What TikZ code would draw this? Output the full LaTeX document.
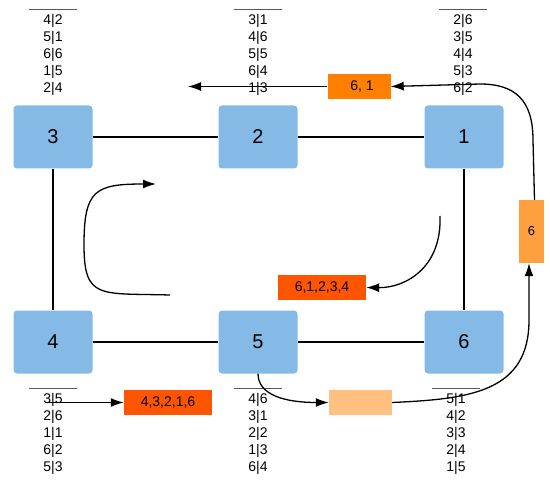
\documentclass[tikz,border=0pt]{standalone}
\usepackage{fontspec}
\setmainfont{Liberation Sans}
\usetikzlibrary{arrows.meta}
\definecolor{boxblue}{RGB}{132,186,229}
\definecolor{orgA}{RGB}{255,128,0}
\definecolor{orgB}{RGB}{255,160,64}
\definecolor{orgC}{RGB}{255,192,128}
\definecolor{orgD}{RGB}{255,85,0}
\tikzset{
  vbox/.style={rounded corners=3.5pt, fill=boxblue, draw=none, minimum width=79pt, minimum height=63pt, inner sep=0pt, font=\fontsize{20}{22}\selectfont},
  tagbox/.style={draw=none, inner sep=0pt, minimum height=25pt, font=\fontsize{14}{16}\selectfont},
  tbl/.style={align=center, inner sep=0pt, anchor=north, font=\fontsize{14}{17}\selectfont},
  rulec/.style={draw=black!65, line width=0.9pt},
  link/.style={draw=black, line width=1.2pt},
  arr/.style={draw=black, line width=1.3pt, -{Latex[length=13pt,width=9pt]}},
}
\begin{document}
\begin{tikzpicture}[x=1pt,y=-1pt]
\useasboundingbox (0,0) rectangle (550,487);
% main boxes
\node[vbox] (n3) at (53,137) {3};
\node[vbox] (n2) at (258,137) {2};
\node[vbox] (n1) at (464,137) {1};
\node[vbox] (n4) at (53,342) {4};
\node[vbox] (n5) at (258,342) {5};
\node[vbox] (n6) at (464,342) {6};
% links
\draw[link] (n3) -- (n2);
\draw[link] (n2) -- (n1);
\draw[link] (n3) -- (n4);
\draw[link] (n1) -- (n6);
\draw[link] (n4) -- (n5);
\draw[link] (n5) -- (n6);
% tables
\node[tbl] (t3) at (53,14.5) {4|2\\5|1\\6|6\\1|5\\2|4};
\node[tbl] (t2) at (258,14.5) {3|1\\4|6\\5|5\\6|4\\1|3};
\node[tbl] (t1) at (463,14.5) {2|6\\3|5\\4|4\\5|3\\6|2};
\node[tbl] (t4) at (53,393.5) {3|5\\2|6\\1|1\\6|2\\5|3};
\node[tbl] (t5) at (258,393.5) {4|6\\3|1\\2|2\\1|3\\6|4};
\node[tbl] (t6) at (456,393.5) {5|1\\4|2\\3|3\\2|4\\1|5};
\foreach \t in {t3,t2,t1,t4,t5,t6}{
  \draw[rulec] ([xshift=-24pt,yshift=5.5pt]\t.north) -- ([xshift=24pt,yshift=5.5pt]\t.north);
}
% tag boxes
\node[tagbox, fill=orgA, minimum width=63pt] (o61) at (359,86.5) {\hspace{6pt}6, 1};
\node[tagbox, fill=orgB, minimum width=25pt, minimum height=63pt, font=\fontsize{13}{15}\selectfont] (o6) at (531.5,231.5) {6};
\node[tagbox, fill=orgC, minimum width=63pt] (lo) at (360.5,402.5) {};
\node[tagbox, fill=orgD, minimum width=88pt] (r4) at (168,402.5) {4,3,2,1,6};
\node[tagbox, fill=orgD, minimum width=88pt] (r6) at (322,287.5) {6,1,2,3,4};
% arrows
\coordinate (e1) at (188,86.5);
\draw[arr] (o61.west) -- (e1);
\draw[arr] ([xshift=3pt]o6.north) -- (533,140) .. controls (533,100) and (515,84) .. (480,84) -- (o61.east);
\coordinate (s4) at (45,402.5);
\draw[arr] (s4) -- (r4.west);
\draw[arr] (n5.south) .. controls (258,395) and (285,402.5) .. (lo.west);
\draw[arr] (lo.east) .. controls (470,399) and (529,392) .. (529,320) -- ([xshift=-2.5pt]o6.south);
\coordinate (s5) at (440,216);
\draw[arr] (s5) .. controls (442,268) and (405,288) .. (r6.east);
\coordinate (s6) at (170,295);
\coordinate (e6) at (156,184);
\draw[arr] (s6) .. controls (100,293) and (84,300) .. (84,245) .. controls (84,190) and (95,184) .. (e6);
\end{tikzpicture}
\end{document}
